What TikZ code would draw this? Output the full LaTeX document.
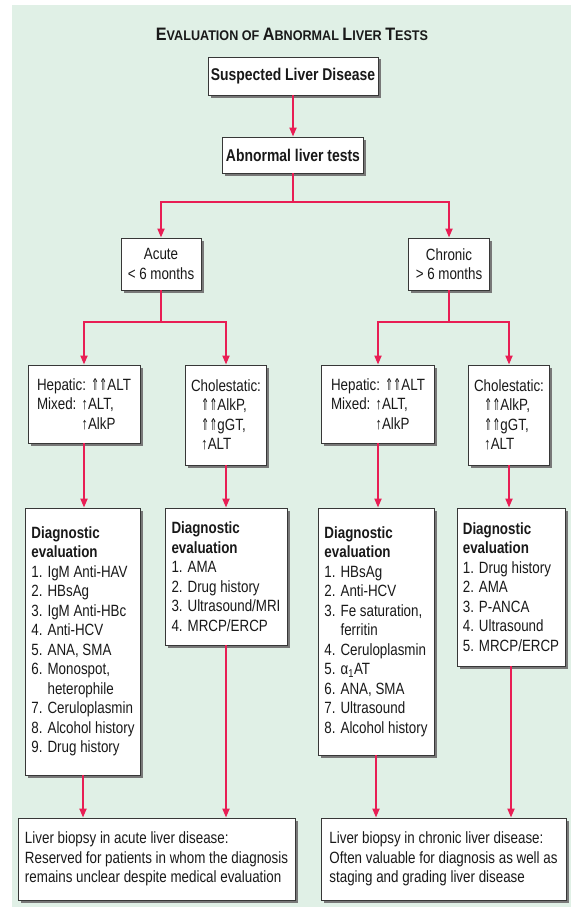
\documentclass[tikz,border=0pt]{standalone}
\usepackage{fontspec}
\usepackage{graphicx}
\setmainfont{Liberation Sans}[FakeStretch=0.82]
\newfontfamily\titlefont{Liberation Sans}[FakeStretch=0.9]
\newfontfamily\symfont{DejaVu Sans}
\usetikzlibrary{arrows.meta,shadows}

\definecolor{panel}{RGB}{224,240,230}
\definecolor{flow}{RGB}{232,30,84}
\definecolor{ink}{RGB}{25,25,25}
\definecolor{frame}{RGB}{55,55,55}
\definecolor{shade}{RGB}{120,120,120}

% narrow double-stroke up arrow and single up arrow
\newcommand\dblup{{\symfont\scalebox{0.6}[1]{⇑}}}
\newcommand\sglup{↑}
% larger initial capital for the small-caps heading
\newcommand\initcap[1]{{\fontsize{18}{18}\selectfont #1}}

\begin{document}
\begin{tikzpicture}[x=1pt,y=-1pt,
  box/.style={draw=frame, line width=0.9pt, fill=white, align=left,
    inner sep=0pt, text=ink, font=\fontsize{16.3}{19.5}\selectfont,
    drop shadow={shadow xshift=2.5pt, shadow yshift=-2.5pt, fill=shade, opacity=1}},
  headbox/.style={box, font=\bfseries\fontsize{17}{20}\selectfont},
  link/.style={draw=flow, line width=1.9pt},
  conn/.style={link, -{Triangle[length=9pt,width=7pt]}},
]
\useasboundingbox (0,0) rectangle (571,907);
\fill[panel] (12,5) rectangle (571,907);

% heading
\node[font=\titlefont\bfseries\fontsize{14}{14}\selectfont, text=ink] (title) at (292,34)
  {\initcap{E}VALUATION OF \initcap{A}BNORMAL \initcap{L}IVER \initcap{T}ESTS};

% top of the tree
\node[headbox, minimum width=170pt, minimum height=38pt] (susp) at (293,76) {Suspected Liver Disease};
\node[headbox, minimum width=141pt, minimum height=36pt] (abn) at (293,155) {Abnormal liver tests};

\node[box, align=center, minimum width=80pt, minimum height=52pt] (acute) at (161,264) {Acute\\< 6 months};
\node[box, align=center, minimum width=81pt, minimum height=52pt] (chronic) at (449,264) {Chronic\\> 6 months};

% pattern of enzyme rise
\node[box, minimum width=112pt, minimum height=78pt] (ahep) at (84,404)
  {Hepatic: \dblup\dblup ALT\\Mixed: \sglup ALT,\\\phantom{Mixed: }\sglup AlkP};
\node[box, minimum width=81pt, minimum height=100pt] (achol) at (226,415)
  {Cholestatic:\\\hspace{10pt}\dblup\dblup AlkP,\\\hspace{10pt}\dblup\dblup gGT,\\\hspace{10pt}\sglup ALT};
\node[box, minimum width=113pt, minimum height=78pt] (chep) at (378,404)
  {Hepatic: \dblup\dblup ALT\\Mixed: \sglup ALT,\\\phantom{Mixed: }\sglup AlkP};
\node[box, minimum width=81pt, minimum height=100pt] (cchol) at (509,415)
  {Cholestatic:\\\hspace{10pt}\dblup\dblup AlkP,\\\hspace{10pt}\dblup\dblup gGT,\\\hspace{10pt}\sglup ALT};

% diagnostic work-up
\node[box, minimum width=115pt, minimum height=267pt] (dal) at (83,641.5)
  {\textbf{Diagnostic}\\\textbf{evaluation}\\1. IgM Anti-HAV\\2. HBsAg\\3. IgM Anti-HBc\\4. Anti-HCV\\5. ANA, SMA\\6. Monospot,\\\phantom{6. }heterophile\\7. Ceruloplasmin\\8. Alcohol history\\9. Drug history};
\node[box, minimum width=122pt, minimum height=137pt] (dar) at (226,576.5)
  {\textbf{Diagnostic}\\\textbf{evaluation}\\1. AMA\\2. Drug history\\3. Ultrasound/MRI\\4. MRCP/ERCP};
\node[box, minimum width=116pt, minimum height=247pt] (dcl) at (376,631.5)
  {\textbf{Diagnostic}\\\textbf{evaluation}\\1. HBsAg\\2. Anti-HCV\\3. Fe saturation,\\\phantom{3. }ferritin\\4. Ceruloplasmin\\5. α\textsubscript{1}AT\\6. ANA, SMA\\7. Ultrasound\\8. Alcohol history};
\node[box, minimum width=108pt, minimum height=158pt] (dcr) at (511,587)
  {\textbf{Diagnostic}\\\textbf{evaluation}\\1. Drug history\\2. AMA\\3. P-ANCA\\4. Ultrasound\\5. MRCP/ERCP};

% biopsy notes
\node[box, minimum width=277pt, minimum height=82pt] (bl) at (156.5,859)
  {Liver biopsy in acute liver disease:\\Reserved for patients in whom the diagnosis\\remains unclear despite medical evaluation};
\node[box, minimum width=245pt, minimum height=82pt] (br) at (443.5,859)
  {Liver biopsy in chronic liver disease:\\Often valuable for diagnosis as well as\\staging and grading liver disease};

% connectors
\coordinate (split) at (293,202);
\coordinate (ja) at (161,322);
\coordinate (jc) at (449,322);

\draw[conn] (susp.south) -- (abn.north);
\draw[link] (abn.south) -- (split);
\draw[conn] (split) -| (acute.north);
\draw[conn] (split) -| (chronic.north);

\draw[link] (acute.south) -- (ja);
\draw[conn] (ja) -| (ahep.north);
\draw[conn] (ja) -| (achol.north);
\draw[link] (chronic.south) -- (jc);
\draw[conn] (jc) -| (chep.north);
\draw[conn] (jc) -| (cchol.north);

\draw[conn] (ahep.south) -- (ahep.south |- dal.north);
\draw[conn] (achol.south) -- (achol.south |- dar.north);
\draw[conn] (chep.south) -- (chep.south |- dcl.north);
\draw[conn] (cchol.south) -- (cchol.south |- dcr.north);

\draw[conn] (dal.south) -- (dal.south |- bl.north);
\draw[conn] (dar.south) -- (dar.south |- bl.north);
\draw[conn] (dcl.south) -- (dcl.south |- br.north);
\draw[conn] (dcr.south) -- (dcr.south |- br.north);
\end{tikzpicture}
\end{document}
